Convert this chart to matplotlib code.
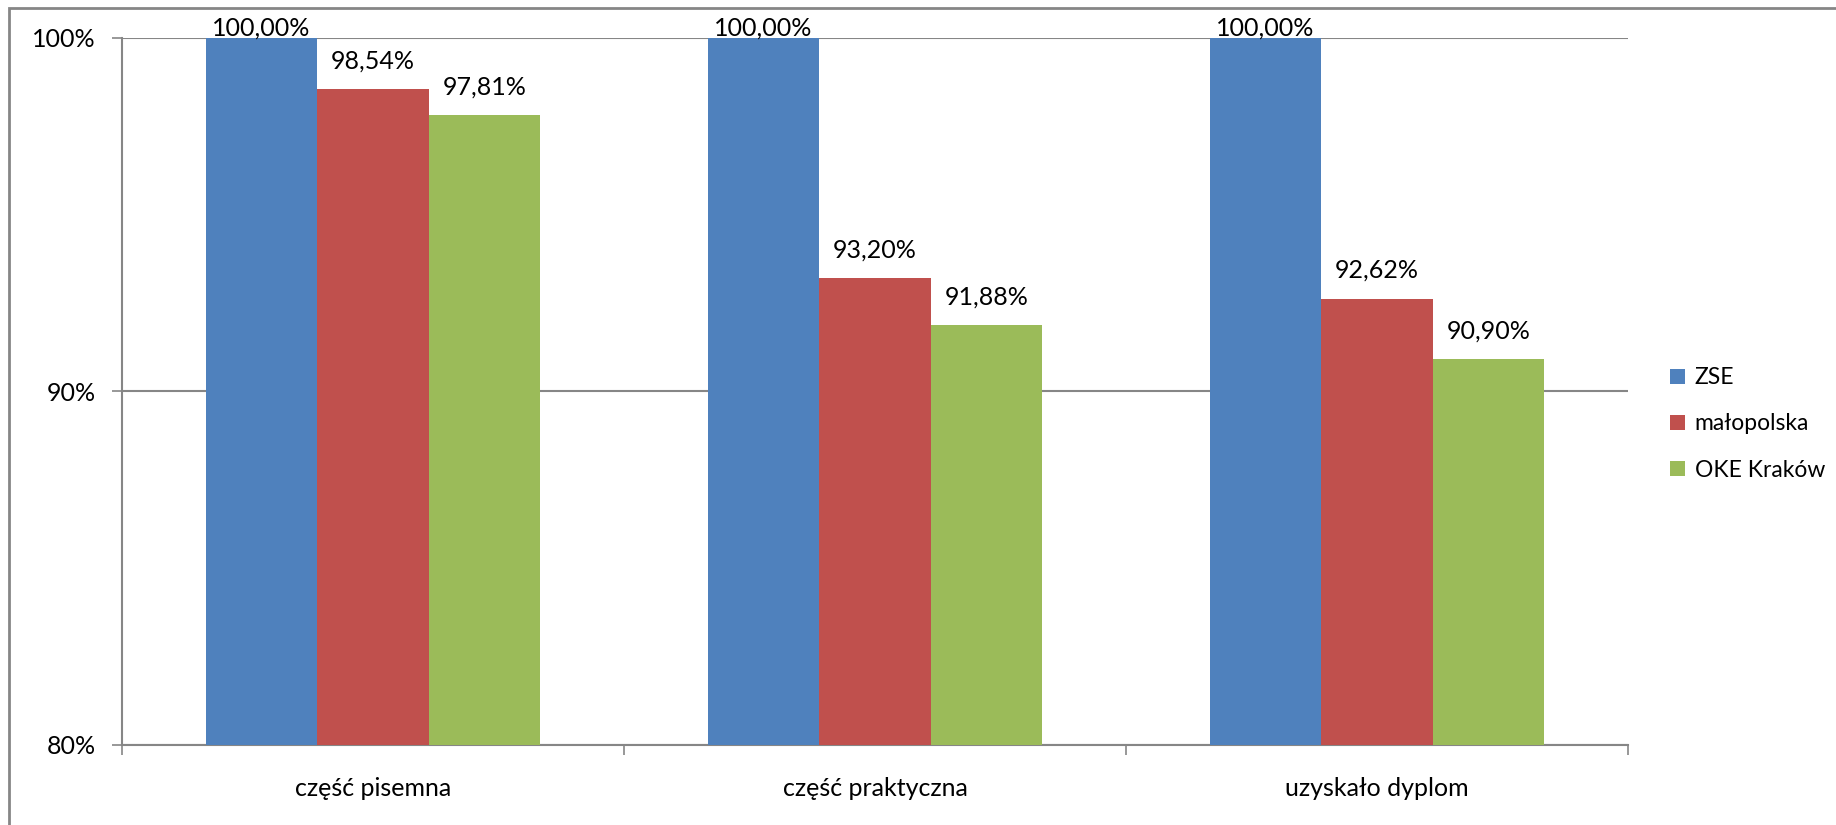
import matplotlib
matplotlib.use("Agg")
import matplotlib.pyplot as plt
from matplotlib.patches import Patch, Rectangle
import numpy as np

categories = ["część pisemna", "część praktyczna", "uzyskało dyplom"]
series_names = ["ZSE", "małopolska", "OKE Kraków"]
zse = [100.00, 100.00, 100.00]
malopolska = [98.54, 93.20, 92.62]
oke = [97.81, 91.88, 90.90]
yticks = [80, 90, 100]
ytick_labels = ["80%", "90%", "100%"]

colors = ["#4F81BD", "#C0504D", "#9BBB59"]
grey = "#868686"
FONT = ["Lato", "DejaVu Sans"]
plt.rcParams["font.family"] = FONT
FS = 18
FS_LEG = 16.5

W, H = 1836, 825
fig = plt.figure(figsize=(W / 100, H / 100), dpi=100)
ax = fig.add_axes([122 / W, 1 - 745 / H, (1628 - 122) / W, (745 - 37.5) / H])

ymin, ymax = 80, 100
x = np.arange(len(categories))
bw = 0.222
all_series = [zse, malopolska, oke]
for i, (vals, name, col) in enumerate(zip(all_series, series_names, colors)):
    xs = x + (i - 1) * bw
    ax.bar(xs, vals, width=bw, color=col, label=name, zorder=3)
    for xi, v in zip(xs, vals):
        off = 9.5 if v >= ymax else 28
        ax.annotate(f"{v:.2f}%".replace(".", ","), xy=(xi, min(v, ymax)),
                    xytext=(0, off), textcoords="offset pixels",
                    ha="center", va="center", fontsize=FS, color="black",
                    annotation_clip=False, zorder=5)

ax.set_ylim(ymin, ymax)
ax.set_xlim(-0.5, len(categories) - 0.5)
ax.set_yticks(yticks)
ax.set_yticklabels(ytick_labels, fontsize=FS)
ax.yaxis.grid(True, color=grey, linewidth=1.5, zorder=0)
ax.set_axisbelow(True)

# category boundaries as major ticks, labels as minor ticks
ax.set_xticks(np.arange(-0.5, len(categories), 1.0))
ax.set_xticklabels([])
ax.set_xticks(x, minor=True)
ax.set_xticklabels(categories, minor=True, fontsize=FS)
ax.tick_params(axis="x", which="major", length=7, width=1.2, color=grey)
ax.tick_params(axis="x", which="minor", length=0, pad=23)
ax.tick_params(axis="y", which="major", length=7, width=1.2, color=grey, pad=12)

for s in ["top", "right"]:
    ax.spines[s].set_visible(False)
for s in ["left", "bottom"]:
    ax.spines[s].set_color(grey)
    ax.spines[s].set_linewidth(1.5)

handles = [Patch(facecolor=c, edgecolor="none") for c in colors]
fig.legend(handles, series_names, loc="center left",
           bbox_to_anchor=(1670 / W, 1 - 424 / H), frameon=False,
           fontsize=FS_LEG, handlelength=0.65, handleheight=0.65,
           handletextpad=0.42, labelspacing=1.1, borderpad=0, borderaxespad=0)

# outer chart border
fig.add_artist(Rectangle((9 / W, -0.1), 1.2, 1.1 - 8.5 / H,
                         transform=fig.transFigure, fill=False,
                         edgecolor=grey, linewidth=2, clip_on=False))

fig.savefig("out.png", dpi=100)
